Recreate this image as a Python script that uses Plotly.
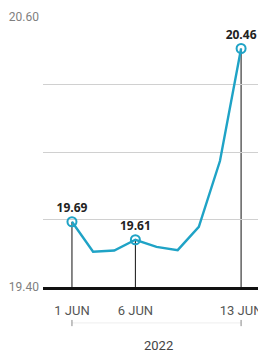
import plotly.graph_objects as go

dates = ["1 JUN", "2 JUN", "3 JUN", "6 JUN", "7 JUN", "8 JUN", "9 JUN", "10 JUN", "13 JUN"]
values = [19.69, 19.557, 19.562, 19.61, 19.578, 19.564, 19.667, 19.96, 20.46]

labelled = ["1 JUN", "6 JUN", "13 JUN"]
label_vals = [values[dates.index(d)] for d in labelled]
label_text = ["%.2f" % v for v in label_vals]

y_ticks = [19.40, 19.70, 20.00, 20.30, 20.60]
y_ticktext = ["19.40", "", "", "", "20.60"]
x_title = "2022"

teal = "#1fa3c6"

fig = go.Figure()
fig.add_trace(go.Scatter(x=dates, y=values, mode="lines",
                         line=dict(color=teal, width=2.4), hoverinfo="skip"))
fig.add_trace(go.Scatter(x=labelled, y=label_vals, mode="markers+text",
                         text=label_text, textposition="top center", cliponaxis=False,
                         textfont=dict(family="Open Sans", size=12, color="#222222", weight="bold"),
                         marker=dict(symbol="circle-open", size=9, color=teal,
                                     line=dict(width=2, color=teal)),
                         hoverinfo="skip"))

shapes = []
for d, v in zip(labelled, label_vals):
    shapes.append(dict(type="line", xref="x", yref="y", x0=d, x1=d, y0=y_ticks[0], y1=v,
                       line=dict(color="#111111", width=1), layer="below"))
# faint bracket below the tick labels
shapes.append(dict(type="line", xref="x", yref="paper", x0=labelled[0], x1=labelled[-1],
                   y0=-0.133, y1=-0.133, line=dict(color="#eeeeee", width=1)))
for d in (labelled[0], labelled[-1]):
    shapes.append(dict(type="line", xref="x", yref="paper", x0=d, x1=d,
                       y0=-0.122, y1=-0.145, line=dict(color="#888888", width=1)))

fig.update_layout(
    width=258, height=354,
    margin=dict(l=43, r=0, t=17, b=67, autoexpand=False),
    paper_bgcolor="white", plot_bgcolor="white",
    showlegend=False,
    hovermode=False,
    shapes=shapes,
    xaxis=dict(type="category", categoryorder="array", categoryarray=dates,
               range=[-1.37, 8.8], tickvals=labelled, ticktext=labelled,
               automargin=False,
               showgrid=False, zeroline=False,
               showline=True, linecolor="#111111", linewidth=3,
               ticks="", ticklabelstandoff=9,
               tickfont=dict(family="Roboto", size=13, color="#555555")),
    yaxis=dict(range=[y_ticks[0], y_ticks[-1]], tickvals=y_ticks, ticktext=y_ticktext,
               automargin=False,
               showgrid=True, gridcolor="#d0d0d0", gridwidth=1, zeroline=False,
               showline=False, ticks="", ticklabelstandoff=3,
               tickfont=dict(family="Roboto", size=12, color="#808080")),
    annotations=[dict(text=x_title, xref="paper", yref="paper", x=0.535, y=-0.218,
                      showarrow=False, xanchor="center", yanchor="middle",
                      font=dict(family="Roboto", size=13, color="#444444"))],
)

fig.write_html("out.html", config={"displayModeBar": False, "staticPlot": True},
               post_script="document.body.style.margin='0';document.documentElement.style.overflow='hidden';")
